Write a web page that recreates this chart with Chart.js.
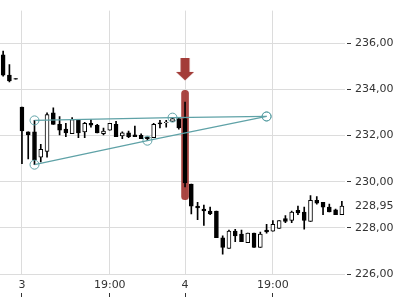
<!DOCTYPE html>
<html>
<head>
<meta charset="utf-8">
<script src="https://cdn.jsdelivr.net/npm/chart.js@4.4.1/dist/chart.umd.min.js"></script>
<style>
  html, body { margin: 0; padding: 0; background: #fff; }
  #wrap { width: 400px; height: 300px; }
</style>
</head>
<body>
<div id="wrap"><canvas id="candleChart" width="400" height="300"></canvas></div>
<script>
// candles, one per slot
const opens  = [235.50, 234.62, 234.47, 233.24, 232.16, 232.16, 231.07, 231.32, 232.99, 232.49,
                232.28, 232.08, 232.66, 232.16, 232.53, 232.45, 232.08, 232.24, 232.49, 231.99,
                232.12, 232.03, 232.01, 231.93, 231.91, 232.55, 232.56, 232.62, 232.74, 232.74,
                229.90, 228.94, 228.82, 228.73, 228.73, 227.57, 227.11, 227.86, 227.73, 227.36,
                227.77, 227.15, 227.90, 227.86, 227.98, 228.40, 228.32, 228.76, 228.69, 228.28,
                229.19, 229.11, 228.90, 228.78, 228.57];
const highs  = [235.67, 235.08, 234.47, 233.24, 232.16, 232.66, 231.62, 232.99, 233.20, 232.83,
                232.53, 232.78, 232.70, 232.58, 232.70, 232.49, 232.33, 232.53, 232.62, 232.16,
                232.20, 232.41, 232.08, 231.95, 232.53, 232.66, 232.66, 232.78, 232.74, 233.45,
                229.90, 229.11, 228.99, 228.90, 228.73, 227.65, 227.90, 227.94, 227.90, 227.77,
                227.77, 227.82, 228.15, 228.32, 228.32, 228.53, 228.73, 228.94, 228.90, 229.40,
                229.36, 229.11, 229.03, 228.82, 229.15];
const lows   = [234.58, 234.33, 234.45, 230.78, 230.99, 230.74, 230.86, 231.07, 232.49, 232.03,
                231.95, 232.08, 231.91, 231.91, 232.37, 232.12, 232.03, 232.24, 231.95, 231.87,
                231.91, 231.95, 231.87, 231.78, 231.91, 232.33, 232.37, 232.62, 232.28, 229.78,
                228.61, 228.36, 228.11, 228.57, 227.57, 226.86, 227.11, 227.40, 227.40, 227.36,
                227.15, 227.15, 227.77, 227.86, 227.98, 228.23, 228.23, 228.57, 227.94, 228.28,
                229.03, 228.57, 228.69, 228.57, 228.57];
const closes = [234.62, 234.37, 234.45, 232.20, 232.03, 230.95, 231.41, 232.91, 232.49, 232.24,
                232.12, 232.70, 232.12, 232.53, 232.45, 232.12, 232.20, 232.53, 231.95, 232.12,
                231.95, 231.95, 231.87, 231.87, 232.49, 232.51, 232.59, 232.74, 232.33, 229.95,
                228.94, 228.86, 228.73, 228.61, 227.57, 227.15, 227.86, 227.65, 227.40, 227.77,
                227.15, 227.73, 227.82, 228.15, 228.32, 228.28, 228.69, 228.65, 228.32, 229.19,
                229.07, 228.90, 228.69, 228.57, 228.95];

// x axis labels (slot index -> text)
const tickIdx  = [3, 17, 29, 43];
const tickText = ['3', '19:00', '4', '19:00'];

// y axis
const yTicks = [226, 228, 230, 232, 234, 236];
const yMin = 226, yMax = 237.42;
const lastPrice = 228.95;

// triangle pattern (slot index + price)
const upperIdx = [5, 27, 42];
const upperVal = [232.66, 232.78, 232.83];
const lowerIdx = [5, 23, 42];
const lowerVal = [230.74, 231.78, 232.83];

// signal on the big candle
const signalIdx = 29;
const signalBand = [229.22, 233.96];
const arrowVal = 234.87;

const n = opens.length;
const labels = opens.map((o, i) => String(i));
const wicks = lows.map((l, i) => [l, highs[i]]);
const bodies = opens.map((o, i) => [o, closes[i]]);
const bodyFill = opens.map((o, i) => closes[i] >= o ? '#ffffff' : '#000000');

function sparse(idx, vals) {
    let arr = new Array(n).fill(null);
    idx.forEach((k, j) => { arr[k] = vals[j]; });
    return arr;
}

// arrow marker image
const arrow = document.createElement('canvas');
arrow.width = 18; arrow.height = 23;
const a = arrow.getContext('2d');
a.fillStyle = '#a33c38';
a.fillRect(4.5, 0, 9, 14);
a.beginPath(); a.moveTo(0, 14); a.lineTo(18, 14); a.lineTo(9, 22.5); a.closePath(); a.fill();

const teal = '#5fa2a7';
const grid = '#dcdcdc';

Chart.defaults.font.family = 'DejaVu Sans';
Chart.defaults.font.size = 11;
Chart.defaults.color = '#333';

const ctx = document.getElementById('candleChart');
candleChart = new Chart(ctx, {
    type: 'bar',
    data: {
        labels: labels,
        datasets: [
            {   // highlight behind signal candle
                data: sparse([signalIdx], [signalBand]),
                backgroundColor: 'rgba(160,50,45,0.9)',
                barThickness: 7, borderRadius: 4, borderSkipped: false,
                grouped: false, order: 10
            },
            {   // wicks
                data: wicks,
                backgroundColor: '#000',
                barThickness: 1, grouped: false, order: 5
            },
            {   // bodies
                data: bodies,
                backgroundColor: bodyFill,
                borderColor: '#000', borderWidth: 1, borderSkipped: false,
                barThickness: 4, grouped: false, order: 4
            },
            {
                type: 'line',
                data: sparse(upperIdx, upperVal),
                borderColor: teal, borderWidth: 1.3, spanGaps: true,
                pointRadius: 4.5, pointBorderWidth: 1, pointBorderColor: teal,
                pointBackgroundColor: 'rgba(255,255,255,0)', order: 2
            },
            {
                type: 'line',
                data: sparse(lowerIdx, lowerVal),
                borderColor: teal, borderWidth: 1.3, spanGaps: true,
                pointRadius: 4.5, pointBorderWidth: 1, pointBorderColor: teal,
                pointBackgroundColor: 'rgba(255,255,255,0)', order: 2
            },
            {   // arrow
                type: 'line',
                data: sparse([signalIdx], [arrowVal]),
                showLine: false, pointStyle: arrow, pointRadius: 10, order: 1
            }
        ]
    },
    options: {
        responsive: false,
        animation: false,
        devicePixelRatio: 1,
        layout: { padding: 0, autoPadding: false },
        plugins: { legend: { display: false }, tooltip: { enabled: false } },
        scales: {
            x: {
                offset: true,
                border: { display: false },
                grid: {
                    offset: false,
                    color: c => tickIdx.includes(c.index) ? grid : 'transparent',
                    tickColor: c => tickIdx.includes(c.index) ? '#333' : 'transparent',
                    tickLength: 23,
                    tickBorderDash: [0, 19, 4, 100]
                },
                ticks: {
                    autoSkip: false, maxRotation: 0, padding: -18,
                    callback: (v, i) => { let k = tickIdx.indexOf(i); return k < 0 ? '' : tickText[k]; }
                },
                afterFit: s => { s.height = 26; }
            },
            y: {
                position: 'right',
                min: yMin, max: yMax,
                border: { display: false },
                afterBuildTicks: s => { s.ticks = yTicks.concat([lastPrice]).map(v => ({ value: v })); },
                grid: {
                    color: c => (c.tick && c.tick.value === lastPrice) ? 'transparent' : grid,
                    tickColor: c => (c.tick && c.tick.value === lastPrice) ? 'transparent' : '#333',
                    tickLength: 6,
                    tickBorderDash: [0, 2, 4, 100]
                },
                ticks: {
                    autoSkip: false, padding: 4,
                    callback: v => v.toFixed(2).replace('.', ',')
                },
                afterFit: s => { s.width = 55; }
            }
        }
    }
});
</script>
</body>
</html>
